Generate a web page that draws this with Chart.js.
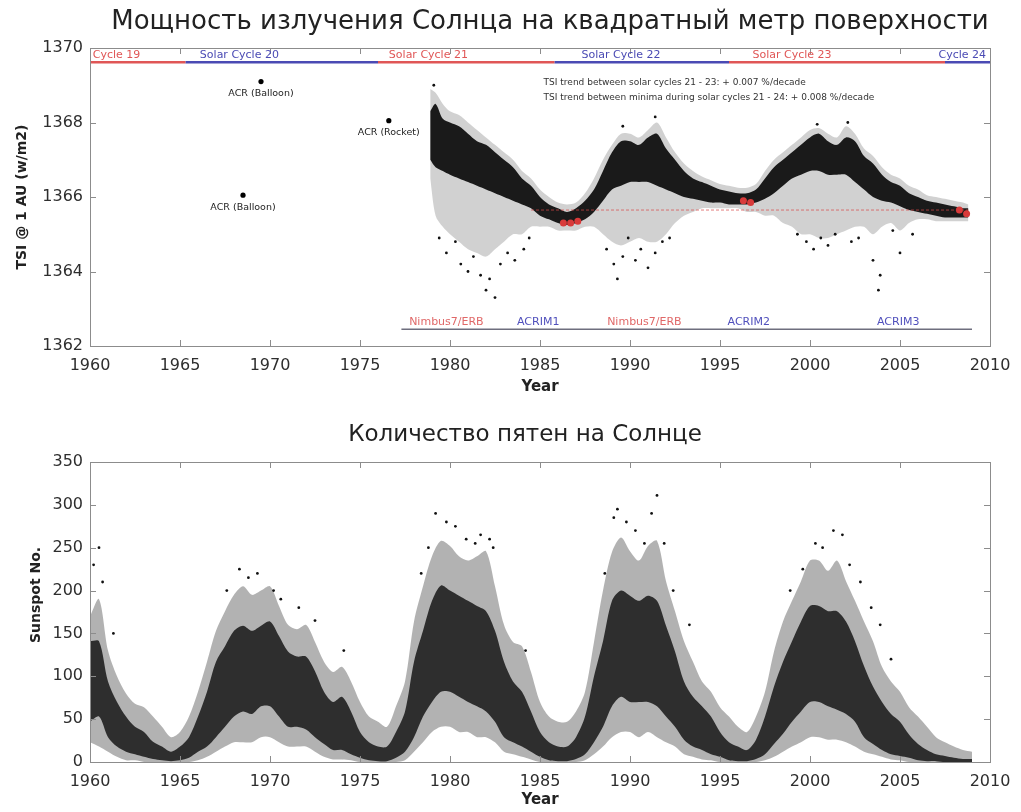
<!DOCTYPE html>
<html>
<head>
<meta charset="utf-8">
<script src="https://cdn.jsdelivr.net/npm/chart.js@4.4.0/dist/chart.umd.min.js"></script>
<style>
body { margin: 0; background: #fff; }
#wrap { position: relative; width: 1021px; height: 812px; }
#tsi { position: absolute; left: 0; top: 0; }
#spots { position: absolute; left: 0; top: 400px; }
</style>
</head>
<body>
<div id="wrap">
<canvas id="tsi" width="1021" height="400"></canvas>
<canvas id="spots" width="1021" height="412"></canvas>
</div>
<script>
// ---- axis ticks
var yearTicks = [1960, 1965, 1970, 1975, 1980, 1985, 1990, 1995, 2000, 2005, 2010];
var tsiTicks = [1362, 1364, 1366, 1368, 1370];
var spotTicks = [0, 50, 100, 150, 200, 250, 300, 350];

// ---- TSI: dense core and sparse spread of daily values
var tsiYears = [1978.9, 1979.2, 1979.6,
  1980, 1980.5, 1981, 1981.5, 1982, 1982.5, 1983, 1983.5, 1984, 1984.5,
  1985, 1985.5, 1986, 1986.5, 1987, 1987.5, 1988, 1988.5, 1989, 1989.5,
  1990, 1990.5, 1991, 1991.5, 1992, 1992.5, 1993, 1993.5, 1994, 1994.5,
  1995, 1995.5, 1996, 1996.5, 1997, 1997.5, 1998, 1998.5, 1999, 1999.5,
  2000, 2000.5, 2001, 2001.5, 2002, 2002.5, 2003, 2003.5, 2004, 2004.5,
  2005, 2005.5, 2006, 2006.5, 2007, 2007.5, 2008, 2008.5, 2008.8];
var tsiCoreHigh = [1368.3, 1368.5, 1368.1,
  1368.0, 1367.9, 1367.7, 1367.5, 1367.4, 1367.2, 1367.0, 1366.8, 1366.5, 1366.3,
  1366.0, 1365.8, 1365.7, 1365.6, 1365.7, 1365.9, 1366.2, 1366.7, 1367.2, 1367.5,
  1367.5, 1367.4, 1367.6, 1367.7, 1367.3, 1367.0, 1366.7, 1366.5, 1366.4, 1366.3,
  1366.2, 1366.15, 1366.1, 1366.1, 1366.2, 1366.5, 1366.8, 1367.0, 1367.2, 1367.4,
  1367.6, 1367.7, 1367.5, 1367.4, 1367.6, 1367.5, 1367.1, 1366.9, 1366.6, 1366.4,
  1366.3, 1366.1, 1366.0, 1365.9, 1365.85, 1365.8, 1365.75, 1365.7, 1365.7];
var tsiCoreLow = [1367.0, 1366.8, 1366.7,
  1366.6, 1366.5, 1366.4, 1366.3, 1366.2, 1366.1, 1366.0, 1365.9, 1365.8, 1365.7,
  1365.5, 1365.4, 1365.3, 1365.25, 1365.3, 1365.4, 1365.6, 1365.9, 1366.2, 1366.3,
  1366.4, 1366.4, 1366.4, 1366.3, 1366.2, 1366.1, 1366.0, 1365.95, 1365.9, 1365.85,
  1365.85, 1365.8, 1365.8, 1365.8, 1365.85, 1365.95, 1366.1, 1366.3, 1366.5, 1366.6,
  1366.7, 1366.7, 1366.6, 1366.6, 1366.6, 1366.4, 1366.2, 1366.0, 1365.9, 1365.85,
  1365.75, 1365.65, 1365.6, 1365.55, 1365.5, 1365.45, 1365.45, 1365.45, 1365.45];
var tsiSpreadHigh = [1368.9, 1368.8, 1368.5,
  1368.3, 1368.2, 1368.0, 1367.8, 1367.6, 1367.4, 1367.2, 1367.0, 1366.7, 1366.5,
  1366.2, 1366.0, 1365.85, 1365.8, 1365.85, 1366.1, 1366.5, 1367.0, 1367.4, 1367.7,
  1367.7, 1367.6, 1367.8, 1368.0, 1367.6, 1367.2, 1366.9, 1366.7, 1366.55, 1366.45,
  1366.35, 1366.3, 1366.25, 1366.25, 1366.35, 1366.7, 1367.0, 1367.2, 1367.4, 1367.6,
  1367.8, 1367.85, 1367.7, 1367.6, 1367.9, 1367.7, 1367.3, 1367.1, 1366.8, 1366.6,
  1366.5, 1366.3, 1366.2, 1366.05, 1366.0, 1365.95, 1365.9, 1365.85, 1365.8];
var tsiSpreadLow = [1366.5, 1365.5, 1365.2,
  1365.0, 1364.8, 1364.6, 1364.5, 1364.4, 1364.6, 1364.8, 1365.0, 1365.0, 1365.2,
  1365.2, 1365.2, 1365.1, 1365.1, 1365.1, 1365.2, 1365.2, 1365.0, 1364.8, 1364.7,
  1364.8, 1364.9, 1364.8, 1364.8, 1365.0, 1365.3, 1365.5, 1365.6, 1365.7, 1365.7,
  1365.7, 1365.7, 1365.7, 1365.6, 1365.6, 1365.5, 1365.5, 1365.3, 1365.2, 1365.0,
  1365.0, 1364.9, 1364.9, 1365.0, 1365.1, 1365.2, 1365.2, 1365.0, 1365.2, 1365.3,
  1365.1, 1365.3, 1365.4, 1365.4, 1365.35, 1365.35, 1365.35, 1365.35, 1365.35];
var tsiOutlierYears = [1979.1, 1979.4, 1979.8, 1980.3, 1980.6, 1981.0, 1981.3, 1981.7, 1982.0, 1982.2,
  1982.5, 1982.8, 1983.2, 1983.6, 1984.1, 1984.4, 1988.7, 1989.1, 1989.3, 1989.6,
  1989.9, 1990.3, 1990.6, 1991.0, 1991.4, 1991.8, 1992.2, 1999.3, 1999.8, 2000.2,
  2000.6, 2001.0, 2001.4, 2002.3, 2002.7, 2003.5, 2003.8, 2003.9, 2004.6, 2005.0,
  2005.7, 1991.4, 2002.1, 2000.4, 1989.6];
var tsiOutlierValues = [1369.0, 1364.9, 1364.5, 1364.8, 1364.2, 1364.0, 1364.4, 1363.9, 1363.5, 1363.8,
  1363.3, 1364.2, 1364.5, 1364.3, 1364.6, 1364.9, 1364.6, 1364.2, 1363.8, 1364.4,
  1364.9, 1364.3, 1364.6, 1364.1, 1364.5, 1364.8, 1364.9, 1365.0, 1364.8, 1364.6,
  1364.9, 1364.7, 1365.0, 1364.8, 1364.9, 1364.3, 1363.5, 1363.9, 1365.1, 1364.5,
  1365.0, 1368.15, 1368.0, 1367.95, 1367.9];
var tsiMinYears = [1986.3, 1986.7, 1987.1, 1996.3, 1996.7, 2008.3, 2008.7];
var tsiMinValues = [1365.3, 1365.3, 1365.35, 1365.9, 1365.85, 1365.65, 1365.55];
var trendYears = [1984.5, 2008.8];
var trendValues = [1365.65, 1365.65];

var acrYears = [1969.5, 1976.6, 1968.5];
var acrValues = [1369.1, 1368.05, 1366.05];
var acrLabels = ['ACR (Balloon)', 'ACR (Rocket)', 'ACR (Balloon)'];

var cycleNames = ['Cycle 19', 'Solar Cycle 20', 'Solar Cycle 21', 'Solar Cycle 22', 'Solar Cycle 23', 'Cycle 24'];
var cycleStart = [1960, 1965.3, 1976.0, 1985.8, 1995.5, 2007.5];
var cycleEnd = [1965.3, 1976.0, 1985.8, 1995.5, 2007.5, 2010];
var cycleLevel = 1369.62;

var instrumentNames = ['Nimbus7/ERB', 'ACRIM1', 'Nimbus7/ERB', 'ACRIM2', 'ACRIM3'];
var instrumentYears = [1979.8, 1984.9, 1990.8, 1996.6, 2004.9];
var instrumentSpan = [1977.3, 2009.0];
var instrumentLevel = 1362.45;

// ---- daily sunspot number
var ssYears = [1960, 1960.5, 1961, 1961.5, 1962, 1962.5, 1963, 1963.5, 1964, 1964.5,
  1965, 1965.5, 1966, 1966.5, 1967, 1967.5, 1968, 1968.5, 1969, 1969.5,
  1970, 1970.5, 1971, 1971.5, 1972, 1972.5, 1973, 1973.5, 1974, 1974.5,
  1975, 1975.5, 1976, 1976.5, 1977, 1977.5, 1978, 1978.5, 1979, 1979.5,
  1980, 1980.5, 1981, 1981.5, 1982, 1982.5, 1983, 1983.5, 1984, 1984.5,
  1985, 1985.5, 1986, 1986.5, 1987, 1987.5, 1988, 1988.5, 1989, 1989.5,
  1990, 1990.5, 1991, 1991.5, 1992, 1992.5, 1993, 1993.5, 1994, 1994.5,
  1995, 1995.5, 1996, 1996.5, 1997, 1997.5, 1998, 1998.5, 1999, 1999.5,
  2000, 2000.5, 2001, 2001.5, 2002, 2002.5, 2003, 2003.5, 2004, 2004.5,
  2005, 2005.5, 2006, 2006.5, 2007, 2007.5, 2008, 2008.5, 2009];
var ssSpreadLow = [23, 18, 12, 6, 2, 2, 0, 0, 0, 0,
  0, 0, 2, 6, 12, 18, 23, 23, 23, 29,
  29, 23, 18, 18, 18, 12, 6, 3, 3, 2,
  0, 0, 0, 0, 0, 2, 12, 23, 35, 41,
  41, 35, 35, 29, 29, 23, 12, 9, 6, 3,
  0, 0, 0, 0, 0, 2, 9, 18, 29, 35,
  35, 29, 35, 29, 23, 18, 9, 6, 3, 2,
  0, 0, 0, 0, 0, 2, 6, 12, 18, 23,
  29, 29, 26, 26, 23, 18, 12, 9, 6, 3,
  2, 0, 0, 0, 0, 0, 0, 0, 0];
var ssSpreadHigh = [170, 190, 130, 100, 80, 68, 64, 53, 41, 29,
  35, 53, 82, 117, 153, 176, 195, 205, 195, 200,
  205, 182, 160, 155, 160, 140, 117, 105, 111, 94,
  70, 53, 47, 41, 65, 94, 164, 205, 240, 258,
  252, 240, 235, 240, 246, 205, 160, 140, 135, 105,
  70, 53, 47, 47, 59, 82, 140, 200, 245, 262,
  246, 235, 252, 258, 211, 176, 141, 117, 94, 82,
  64, 53, 41, 35, 53, 82, 129, 164, 188, 211,
  235, 235, 223, 235, 211, 188, 164, 141, 111, 94,
  82, 64, 53, 41, 29, 23, 18, 14, 12];
var ssCoreLow = [47, 53, 29, 18, 12, 9, 6, 3.5, 2, 1,
  2, 5, 12, 18, 29, 41, 53, 59, 56, 65,
  65, 53, 41, 41, 38, 29, 21, 14, 14, 9,
  5, 2, 1, 1, 5, 12, 29, 53, 70, 82,
  82, 76, 70, 65, 59, 47, 29, 23, 18, 12,
  6, 2, 1, 1, 3.5, 9, 23, 41, 65, 76,
  70, 70, 70, 65, 53, 41, 26, 18, 14, 9,
  6, 2, 1, 1, 3.5, 9, 21, 33, 47, 59,
  70, 70, 65, 61, 56, 47, 29, 21, 14, 9,
  7, 5, 2, 1, 1, 0, 0, 0, 0];
var ssCoreHigh = [141, 141, 94, 70, 53, 41, 35, 23.5, 18, 12,
  18, 29, 53, 82, 117, 135, 153, 159, 153, 159,
  164, 147, 129, 123, 123, 106, 82, 70, 76, 59,
  35, 23, 18, 18, 35, 59, 117, 153, 188, 206,
  200, 194, 188, 182, 176, 153, 117, 94, 82, 59,
  35, 23, 18, 18, 29, 53, 100, 141, 188, 200,
  194, 188, 194, 188, 159, 129, 94, 76, 65, 53,
  35, 23, 18, 14, 26, 53, 88, 117, 141, 164,
  182, 182, 176, 176, 164, 141, 112, 88, 70, 56,
  47, 32, 21, 14, 9, 7, 5, 3.5, 3.5];
var ssPeakYears = [1960.2, 1960.5, 1960.7, 1961.3, 1967.6, 1968.3, 1968.8, 1969.3, 1970.2, 1970.6,
  1971.6, 1972.5, 1974.1, 1978.4, 1978.8, 1979.2, 1979.8, 1980.3, 1980.9, 1981.4,
  1981.7, 1982.2, 1982.4, 1984.2, 1988.6, 1989.1, 1989.3, 1989.8, 1990.3, 1990.8,
  1991.2, 1991.5, 1991.9, 1992.4, 1993.3, 1998.9, 1999.6, 2000.3, 2000.7, 2001.3,
  2001.8, 2002.2, 2002.8, 2003.4, 2003.9, 2004.5];
var ssPeakValues = [230, 250, 210, 150, 200, 225, 215, 220, 200, 190,
  180, 165, 130, 220, 250, 290, 280, 275, 260, 255,
  265, 260, 250, 130, 220, 285, 295, 280, 270, 255,
  290, 311, 255, 200, 160, 200, 225, 255, 250, 270,
  265, 230, 210, 180, 160, 120];

Chart.defaults.font.family = 'DejaVu Sans';
Chart.defaults.color = '#333';

var RED = '#e05656';
var BLUE = '#4a4ab4';

function pts(xs, ys) {
  return xs.map(function (x, i) { return { x: x, y: ys[i] }; });
}

function band(xs, hi, lo, color, order) {
  return [
    { data: pts(xs, hi), fill: '+1', backgroundColor: color, borderColor: 'rgba(0,0,0,0)', borderWidth: 1, pointRadius: 0, tension: 0.3, order: order },
    { data: pts(xs, lo), fill: false, borderColor: 'rgba(0,0,0,0)', borderWidth: 1, pointRadius: 0, tension: 0.3, order: order }
  ];
}

function dots(xs, ys, color, r, order) {
  return { data: pts(xs, ys), showLine: false, pointRadius: r, pointBackgroundColor: color, pointBorderWidth: 0, order: order };
}

function segment(x0, x1, y, color, width, order) {
  return { data: [{ x: x0, y: y }, { x: x1, y: y }], borderColor: color, borderWidth: width, pointRadius: 0, fill: false, order: order };
}

// box with inward ticks, MATLAB style
var frame = {
  id: 'frame',
  afterDraw: function (chart) {
    var ctx = chart.ctx, a = chart.chartArea, sx = chart.scales.x, sy = chart.scales.y;
    ctx.save();
    ctx.strokeStyle = '#8c8c8c';
    ctx.lineWidth = 1;
    ctx.strokeRect(Math.round(a.left) + 0.5, Math.round(a.top) + 0.5, Math.round(a.width), Math.round(a.height));
    ctx.beginPath();
    sx.ticks.forEach(function (t) {
      var px = Math.round(sx.getPixelForValue(t.value)) + 0.5;
      ctx.moveTo(px, a.bottom); ctx.lineTo(px, a.bottom - 6);
      ctx.moveTo(px, a.top); ctx.lineTo(px, a.top + 6);
    });
    sy.ticks.forEach(function (t) {
      var py = Math.round(sy.getPixelForValue(t.value)) + 0.5;
      ctx.moveTo(a.left, py); ctx.lineTo(a.left + 6, py);
      ctx.moveTo(a.right, py); ctx.lineTo(a.right - 6, py);
    });
    ctx.stroke();
    ctx.restore();
  }
};

function put(ctx, text, x, y, font, color, align, angle) {
  ctx.save();
  ctx.font = font;
  ctx.fillStyle = color;
  ctx.textAlign = align || 'center';
  ctx.textBaseline = 'middle';
  ctx.translate(x, y);
  if (angle) ctx.rotate(angle);
  ctx.fillText(text, 0, 0);
  ctx.restore();
}

function axes(min, max, ticks, xHeight, xPad) {
  return {
    x: {
      type: 'linear', min: 1960, max: 2010,
      grid: { display: false, drawTicks: false }, border: { display: false },
      afterBuildTicks: function (s) { s.ticks = yearTicks.map(function (v) { return { value: v }; }); },
      afterFit: function (s) { s.height = xHeight; },
      ticks: { font: { size: 16 }, color: '#2e2e2e', padding: xPad, maxRotation: 0, autoSkip: false,
        callback: function (v) { return String(v); } }
    },
    y: {
      type: 'linear', min: min, max: max,
      grid: { display: false, drawTicks: false }, border: { display: false },
      afterBuildTicks: function (s) { s.ticks = ticks.map(function (v) { return { value: v }; }); },
      afterFit: function (s) { s.width = 90; },
      ticks: { font: { size: 16 }, color: '#2e2e2e', padding: 7, autoSkip: false,
        callback: function (v) { return String(v); } }
    }
  };
}

var common = {
  responsive: false,
  animation: false,
  events: [],
  plugins: { legend: { display: false }, tooltip: { enabled: false } }
};

// ---- top chart: total solar irradiance
var tsiSets = []
  .concat(band(tsiYears, tsiSpreadHigh, tsiSpreadLow, 'rgba(0,0,0,0.18)', 10))
  .concat(band(tsiYears, tsiCoreHigh, tsiCoreLow, 'rgba(0,0,0,0.88)', 9));
tsiSets.push(dots(tsiOutlierYears, tsiOutlierValues, '#111', 1.4, 8));
tsiSets.push({ data: pts(trendYears, trendValues), borderColor: 'rgba(215,70,70,0.7)', borderWidth: 1, borderDash: [3, 2], pointRadius: 0, fill: false, order: 7 });
tsiSets.push(dots(tsiMinYears, tsiMinValues, '#d83a3a', 3.5, 6));
cycleNames.forEach(function (n, i) {
  tsiSets.push(segment(cycleStart[i], cycleEnd[i], cycleLevel, i % 2 === 0 ? RED : BLUE, 2.5, 5));
});
tsiSets.push(segment(instrumentSpan[0], instrumentSpan[1], instrumentLevel, '#6e6e7e', 1.5, 5));
tsiSets.push(dots(acrYears, acrValues, '#000', 2.6, 4));

var tsiNotes = {
  id: 'tsiNotes',
  afterDraw: function (chart) {
    var ctx = chart.ctx, sx = chart.scales.x, sy = chart.scales.y, a = chart.chartArea;
    put(ctx, 'Мощность излучения Солнца на квадратный метр поверхности', 550, 22, '26px "DejaVu Sans"', '#222');
    put(ctx, 'Year', (a.left + a.right) / 2, 387, 'bold 15px "DejaVu Sans"', '#222');
    put(ctx, 'TSI @ 1 AU (w/m2)', 22, (a.top + a.bottom) / 2, 'bold 14px "DejaVu Sans"', '#222', 'center', -Math.PI / 2);
    acrLabels.forEach(function (t, i) {
      put(ctx, t, sx.getPixelForValue(acrYears[i]), sy.getPixelForValue(acrValues[i]) + 12, '9.5px "DejaVu Sans"', '#222');
    });
    var cy = sy.getPixelForValue(cycleLevel) - 7;
    var cycleAt = [1960.1, 1968.3, 1978.8, 1989.5, 1999.0, 2010];
    cycleNames.forEach(function (t, i) {
      var al = i === 0 ? 'left' : (i === cycleNames.length - 1 ? 'right' : 'center');
      put(ctx, t, sx.getPixelForValue(cycleAt[i]) + (i === 0 ? 1 : (al === 'right' ? -4 : 0)), cy, '11px "DejaVu Sans"', i % 2 === 0 ? RED : BLUE, al);
    });
    var iy = sy.getPixelForValue(instrumentLevel) - 7;
    instrumentNames.forEach(function (t, i) {
      put(ctx, t, sx.getPixelForValue(instrumentYears[i]), iy, '11px "DejaVu Sans"', t.indexOf('Nimbus') === 0 ? '#e06868' : '#5050bc');
    });
    put(ctx, 'TSI trend between solar cycles 21 - 23: + 0.007 %/decade', sx.getPixelForValue(1985.2), sy.getPixelForValue(1369.06), '9px "DejaVu Sans"', '#333', 'left');
    put(ctx, 'TSI trend between minima during solar cycles 21 - 24: + 0.008 %/decade', sx.getPixelForValue(1985.2), sy.getPixelForValue(1368.68), '9px "DejaVu Sans"', '#333', 'left');
  }
};

new Chart(document.getElementById('tsi').getContext('2d'), {
  type: 'line',
  data: { datasets: tsiSets },
  options: Object.assign({}, common, {
    layout: { padding: { left: 0, right: 31, top: 48, bottom: 0 } },
    scales: axes(1362, 1370, tsiTicks, 54, 10)
  }),
  plugins: [frame, tsiNotes]
});

// ---- bottom chart: sunspot number
var spotSets = []
  .concat(band(ssYears, ssSpreadHigh, ssSpreadLow, 'rgba(0,0,0,0.3)', 10))
  .concat(band(ssYears, ssCoreHigh, ssCoreLow, 'rgba(0,0,0,0.74)', 9));
spotSets.push(dots(ssPeakYears, ssPeakValues, '#111', 1.4, 8));

var spotNotes = {
  id: 'spotNotes',
  afterDraw: function (chart) {
    var ctx = chart.ctx, a = chart.chartArea;
    put(ctx, 'Количество пятен на Солнце', 525, 35, '23px "DejaVu Sans"', '#222');
    put(ctx, 'Year', (a.left + a.right) / 2, 400, 'bold 15px "DejaVu Sans"', '#222');
    put(ctx, 'Sunspot No.', 36, 195, 'bold 14px "DejaVu Sans"', '#222', 'center', -Math.PI / 2);
  }
};

new Chart(document.getElementById('spots').getContext('2d'), {
  type: 'line',
  data: { datasets: spotSets },
  options: Object.assign({}, common, {
    layout: { padding: { left: 0, right: 31, top: 62, bottom: 0 } },
    scales: axes(0, 350, spotTicks, 50, 10)
  }),
  plugins: [frame, spotNotes]
});
</script>
</body>
</html>
